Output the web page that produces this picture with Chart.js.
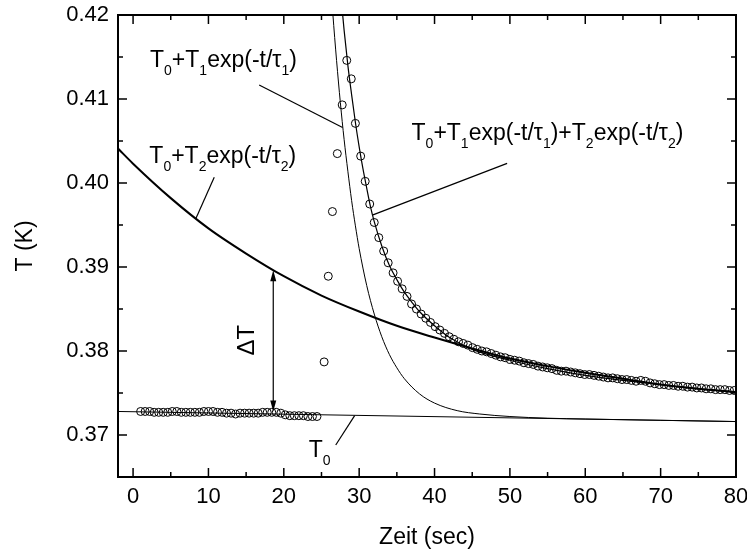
<!DOCTYPE html>
<html>
<head>
<meta charset="utf-8">
<script src="https://cdn.jsdelivr.net/npm/chart.js@4.4.0/dist/chart.umd.min.js"></script>
<style>
  html, body { margin: 0; padding: 0; background: #fff; }
</style>
</head>
<body>
<canvas id="relaxChart" width="747" height="552"></canvas>
<script>
// measured temperature after the heat pulse (time in s, T in K)
const flatTimes = [1.0, 1.6, 2.2, 2.8, 3.4, 4.0, 4.6, 5.2, 5.8, 6.4, 7.0, 7.6, 8.2, 8.8, 9.4, 10.0,
  10.6, 11.2, 11.8, 12.4, 13.0, 13.6, 14.2, 14.8, 15.4, 16.0, 16.6, 17.2, 17.8, 18.4, 19.0, 19.6,
  20.2, 20.8, 21.4, 22.0, 22.6, 23.2, 23.8, 24.4];
const flatTemps = [0.3728, 0.3728, 0.3728, 0.3727, 0.3727, 0.3727, 0.3727, 0.3728, 0.3728, 0.3727,
  0.3727, 0.3727, 0.3727, 0.3727, 0.3728, 0.3728, 0.3728, 0.3727, 0.3727, 0.3726, 0.3726, 0.3725,
  0.3726, 0.3726, 0.3726, 0.3726, 0.3726, 0.3727, 0.3727, 0.3727, 0.3727, 0.3726, 0.3724, 0.3723,
  0.3723, 0.3723, 0.3723, 0.3722, 0.3722, 0.3722];

const riseTimes = [25.35, 25.9, 26.45, 27.1, 27.75];
const riseTemps = [0.3787, 0.3889, 0.3966, 0.4035, 0.4093];

const decayTimes = [28.35, 28.95, 29.5, 30.2, 30.8, 31.4, 32.0, 32.6, 33.25, 33.85, 34.5, 35.1, 35.7,
  36.35, 36.95, 37.60, 38.22, 38.84, 39.46, 40.08, 40.70, 41.32, 41.94, 42.56, 43.18, 43.80, 44.42,
  45.04, 45.66, 46.28, 46.90, 47.52, 48.14, 48.76, 49.38, 50.00, 50.62, 51.24, 51.86, 52.48, 53.10,
  53.72, 54.34, 54.96, 55.58, 56.20, 56.82, 57.44, 58.06, 58.68, 59.30, 59.92, 60.54, 61.16, 61.78,
  62.40, 63.02, 63.64, 64.26, 64.88, 65.50, 66.12, 66.74, 67.36, 67.98, 68.60, 69.22, 69.84, 70.46,
  71.08, 71.70, 72.32, 72.94, 73.56, 74.18, 74.80, 75.42, 76.04, 76.66, 77.28, 77.90, 78.52, 79.14, 79.76];
const decayTemps = [0.4146, 0.4124, 0.4071, 0.4032, 0.4002, 0.3975, 0.3953, 0.3935, 0.3919, 0.3905,
  0.3893, 0.3883, 0.3874, 0.3865, 0.3856,
  0.3850, 0.3844, 0.3839, 0.3834, 0.3829, 0.3825, 0.3821, 0.3817, 0.3814, 0.3811,
  0.3809, 0.3807, 0.3804, 0.3802, 0.3800, 0.3799, 0.3797, 0.3795, 0.3793, 0.3792,
  0.3790, 0.3789, 0.3788, 0.3786, 0.3785, 0.3784, 0.3782, 0.3781, 0.3780, 0.3779,
  0.3777, 0.3776, 0.3776, 0.3775, 0.3774, 0.3773, 0.3772, 0.3772, 0.3771, 0.3770,
  0.3769, 0.3768, 0.3768, 0.3767, 0.3766, 0.3766, 0.3765, 0.3764, 0.3765, 0.3764,
  0.3762, 0.3761, 0.3760, 0.3760, 0.3759, 0.3759, 0.3758, 0.3758, 0.3757, 0.3757,
  0.3756, 0.3756, 0.3755, 0.3755, 0.3754, 0.3754, 0.3754, 0.3753, 0.3753];

// fitted curves
const baseTimes = [-2, 80];
const baseTemps = [0.3728, 0.3716];

const slowTimes = [-2, 0, 5, 10, 15, 20, 25, 30, 35, 40, 45, 50, 55, 60, 65, 70, 75, 80];
const slowTemps = [0.4041, 0.4023, 0.3982, 0.3946, 0.3916, 0.3889, 0.3866, 0.3847, 0.3830, 0.3816,
  0.3803, 0.3791, 0.3782, 0.3774, 0.3767, 0.3760, 0.3755, 0.3751];

const fastTimes = [25, 26, 26.5, 27, 27.5, 28, 28.5, 29, 29.5, 30, 31, 32, 33, 34, 35, 36, 38, 40,
  43, 46, 50, 55, 60, 70, 80];
const fastTemps = [0.4419, 0.4266, 0.4202, 0.4146, 0.4096, 0.4052, 0.4014, 0.3979, 0.3949, 0.3922,
  0.3878, 0.3844, 0.3817, 0.3796, 0.3780, 0.3767, 0.3749, 0.3738, 0.3729, 0.3725, 0.3722, 0.3720,
  0.3719, 0.37175, 0.3716];

const sumTimes = [27, 27.5, 28, 28.5, 29, 29.5, 30, 30.5, 31, 31.5, 32, 33, 34, 35, 36, 37, 38, 40,
  42, 45, 50, 55, 60, 65, 70, 75, 80];
const sumTemps = [0.4282, 0.4230, 0.4182, 0.4140, 0.4105, 0.4072, 0.4043, 0.4017, 0.3994, 0.3972,
  0.3954, 0.3925, 0.3902, 0.3885, 0.3870, 0.3858, 0.3847, 0.3830, 0.3816, 0.3802, 0.3789, 0.3779,
  0.3771, 0.3765, 0.3760, 0.3755, 0.3751];

// axes
const xTicks = [0, 10, 20, 30, 40, 50, 60, 70, 80];
const yTicks = [0.37, 0.38, 0.39, 0.40, 0.41, 0.42];

const FONT = '"Liberation Sans", Arial, sans-serif';

const toPoints = (xs, ys) => xs.map((t, i) => ({ x: t, y: ys[i] }));

function curve(xs, ys, width) {
  return {
    data: toPoints(xs, ys),
    showLine: true,
    borderColor: "#000",
    borderWidth: width,
    pointRadius: 0,
    cubicInterpolationMode: "monotone",
  };
}

// labels on the plot: [text, isSubscript]
const notes = [
  { t: 2.25, T: 0.41381, parts: [["T"], ["0", 1], ["+T"], ["1", 1], ["exp(-t/τ"], ["1", 1], [")"]] },
  { t: 2.16, T: 0.40234, parts: [["T"], ["0", 1], ["+T"], ["2", 1], ["exp(-t/τ"], ["2", 1], [")"]] },
  { t: 36.95, T: 0.40512, parts: [["T"], ["0", 1], ["+T"], ["1", 1], ["exp(-t/τ"], ["1", 1], [")+T"],
    ["2", 1], ["exp(-t/τ"], ["2", 1], [")"]] },
  { t: 23.3, T: 0.36738, parts: [["T"], ["0", 1]] },
];
// leader lines from the labels to their curves
const leaders = [
  [16.73, 0.41167, 27.8, 0.4066],
  [10.77, 0.40068, 8.35, 0.3958],
  [49.63, 0.40234, 31.83, 0.3962],
  [26.89, 0.36881, 29.4, 0.3723],
];
const deltaArrow = { t: 18.6, low: 0.3728, high: 0.3896, labelT: 15.1, labelY: 0.3813 };

const decorations = {
  id: "decorations",
  afterDatasetsDraw(chart) {
    const { ctx, chartArea: a, scales: { x, y } } = chart;
    const seg = (x1, y1, x2, y2) => {
      ctx.beginPath();
      ctx.moveTo(x1, y1);
      ctx.lineTo(x2, y2);
      ctx.stroke();
    };
    ctx.save();
    ctx.strokeStyle = "#000";
    ctx.fillStyle = "#000";

    // inward ticks on all four sides
    ctx.lineWidth = 1.5;
    x.ticks.forEach((tk, i) => {
      const px = x.getPixelForValue(tk.value);
      seg(px, a.bottom, px, a.bottom - 9);
      seg(px, a.top, px, a.top + 9);
      if (i < x.ticks.length - 1) {
        const pm = x.getPixelForValue(tk.value + 5);
        seg(pm, a.bottom, pm, a.bottom - 5);
        seg(pm, a.top, pm, a.top + 5);
      }
    });
    y.ticks.forEach((tk) => {
      const py = y.getPixelForValue(tk.value);
      seg(a.left, py, a.left + 9, py);
      seg(a.right, py, a.right - 9, py);
      const pm = y.getPixelForValue(tk.value + 0.005);
      if (tk.value + 0.005 < y.max) {
        seg(a.left, pm, a.left + 5, pm);
        seg(a.right, pm, a.right - 5, pm);
      }
    });
    ctx.lineWidth = 2;
    ctx.strokeRect(a.left, a.top, a.right - a.left, a.bottom - a.top);

    // leader lines
    ctx.lineWidth = 1.2;
    leaders.forEach(([t1, v1, t2, v2]) => {
      seg(x.getPixelForValue(t1), y.getPixelForValue(v1), x.getPixelForValue(t2), y.getPixelForValue(v2));
    });

    // delta T double arrow
    const ax = x.getPixelForValue(deltaArrow.t);
    const yLow = y.getPixelForValue(deltaArrow.low);
    const yHigh = y.getPixelForValue(deltaArrow.high);
    ctx.lineWidth = 1.2;
    seg(ax, yHigh + 8, ax, yLow - 8);
    ctx.beginPath();
    ctx.moveTo(ax, yHigh);
    ctx.lineTo(ax - 3, yHigh + 11);
    ctx.lineTo(ax + 3, yHigh + 11);
    ctx.closePath();
    ctx.fill();
    ctx.beginPath();
    ctx.moveTo(ax, yLow);
    ctx.lineTo(ax - 3, yLow - 11);
    ctx.lineTo(ax + 3, yLow - 11);
    ctx.closePath();
    ctx.fill();

    ctx.save();
    ctx.translate(x.getPixelForValue(deltaArrow.labelT), y.getPixelForValue(deltaArrow.labelY));
    ctx.rotate(-Math.PI / 2);
    ctx.font = "24px " + FONT;
    ctx.textAlign = "center";
    ctx.textBaseline = "middle";
    ctx.fillText("ΔT", 0, 0);
    ctx.restore();

    // formula labels with subscripts
    ctx.textAlign = "left";
    ctx.textBaseline = "alphabetic";
    notes.forEach((n) => {
      let cx = x.getPixelForValue(n.t);
      const by = y.getPixelForValue(n.T);
      n.parts.forEach(([txt, sub]) => {
        ctx.font = (sub ? "14px " : "23px ") + FONT;
        ctx.fillText(txt, cx, sub ? by + 8 : by);
        cx += ctx.measureText(txt).width;
      });
    });
    ctx.restore();
  },
};

new Chart(document.getElementById("relaxChart"), {
  type: "scatter",
  data: {
    datasets: [
      {
        data: toPoints(flatTimes.concat(riseTimes, decayTimes), flatTemps.concat(riseTemps, decayTemps)),
        pointStyle: "circle",
        pointRadius: 4,
        borderWidth: 1,
        borderColor: "#000",
        backgroundColor: "rgba(0,0,0,0)",
      },
      curve(baseTimes, baseTemps, 1),
      curve(fastTimes, fastTemps, 1),
      curve(sumTimes, sumTemps, 1.2),
      curve(slowTimes, slowTemps, 2),
    ],
  },
  options: {
    responsive: false,
    animation: false,
    layout: { padding: { top: 15, right: 11, left: 0, bottom: 0 } },
    plugins: { legend: { display: false }, tooltip: { enabled: false } },
    scales: {
      x: {
        type: "linear",
        min: -2,
        max: 80,
        afterBuildTicks: (s) => { s.ticks = xTicks.map((v) => ({ value: v })); },
        afterFit: (s) => { s.height = 75; s.paddingLeft = 0; s.paddingRight = 0; },
        grid: { display: false, drawTicks: false },
        border: { display: false },
        ticks: { color: "#000", padding: 7, font: { family: FONT, size: 22 } },
        title: { display: true, text: "Zeit (sec)", color: "#000", padding: { top: 0, bottom: 1 },
          font: { family: FONT, size: 23 } },
      },
      y: {
        type: "linear",
        min: 0.365,
        max: 0.42,
        afterBuildTicks: (s) => { s.ticks = yTicks.map((v) => ({ value: v })); },
        afterFit: (s) => { s.width = 118; s.paddingTop = 0; s.paddingBottom = 0; },
        grid: { display: false, drawTicks: false },
        border: { display: false },
        ticks: { color: "#000", padding: 9, font: { family: FONT, size: 22 },
          callback: (v) => v.toFixed(2) },
        title: { display: true, text: "T (K)", color: "#000", padding: { top: 12, bottom: 0 },
          font: { family: FONT, size: 23 } },
      },
    },
  },
  plugins: [decorations],
});
</script>
</body>
</html>
